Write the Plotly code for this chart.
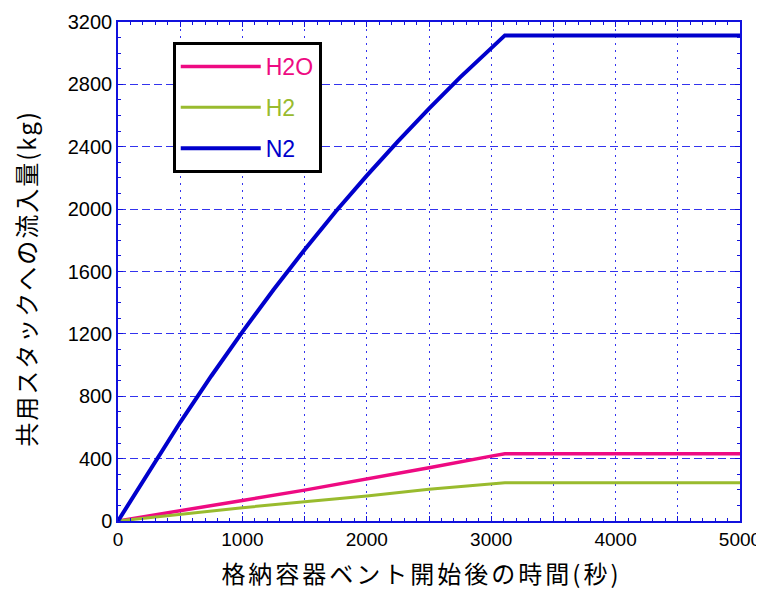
import plotly.graph_objects as go

# Data (time in seconds, cumulative inflow in kg)
time_n2 = [0, 250, 500, 750, 1000, 1250, 1500, 1750, 2000, 2250, 2500, 2750, 3000, 3110, 5000]
n2_kg = [0, 322, 633, 930, 1213, 1483, 1740, 1985, 2215, 2435, 2645, 2845, 3035, 3114, 3114]

time_s = [0, 500, 1000, 1500, 2000, 2500, 3000, 3110, 5000]
h2o_kg = [0, 68, 132, 198, 267, 341, 416, 431, 431]
h2_kg = [0, 43, 85, 124, 160, 203, 239, 245, 245]

series_names = ["H2O", "H2", "N2"]
series_colors = ["#EE0A82", "#99BB2E", "#0000CC"]
series_widths = [3.5, 3, 4]

x_tickvals = [0, 500, 1000, 1500, 2000, 2500, 3000, 3500, 4000, 4500, 5000]
x_ticktext = ["0", "", "1000", "", "2000", "", "3000", "", "4000", "", "5000"]
y_tickvals = [0, 400, 800, 1200, 1600, 2000, 2400, 2800, 3200]
y_ticktext = [str(v) for v in y_tickvals]

x_title = "格納容器ベント開始後の時間(秒)"
y_title = "共用スタックへの流入量(kg)"

fig = go.Figure()
for name, xs, ys, col, w in zip(series_names, [time_s, time_s, time_n2],
                                [h2o_kg, h2_kg, n2_kg], series_colors, series_widths):
    fig.add_trace(go.Scatter(
        x=xs, y=ys, mode="lines", name=f"<span style='color:{col}'>{name}</span>",
        line=dict(color=col, width=w), legendgroup=name,
    ))

grid_col = "#3333EE"
axis_col = "#1111DD"
sans = "Liberation Sans, Arial, sans-serif"
jp = "Noto Sans CJK JP, sans-serif"

# page body has an 8px margin: size the figure so that it fits the 764x590 window
fig.update_layout(
    width=756, height=582,
    margin=dict(l=110, r=24, t=14, b=69),
    paper_bgcolor="white", plot_bgcolor="white",
    showlegend=True,
    legend=dict(
        x=0.088, y=0.96, xanchor="left", yanchor="top",
        bordercolor="black", borderwidth=3, bgcolor="white",
        font=dict(family="Liberation Sans Narrow, Liberation Sans, Arial", size=23),
        tracegroupgap=8, itemwidth=80,
    ),
    xaxis=dict(
        range=[0, 5000], tickvals=x_tickvals, ticktext=x_ticktext,
        showgrid=True, gridcolor=grid_col, griddash="2px,5px", gridwidth=1,
        showline=True, linecolor=axis_col, linewidth=1.5, mirror="ticks",
        ticks="inside", ticklen=5, tickcolor=axis_col,
        minor=dict(dtick=100, ticks="inside", ticklen=3, tickcolor=axis_col, showgrid=False),
        tickfont=dict(family=sans, size=19, color="black"), zeroline=False, automargin=False,
        title=dict(text=f"<span style='letter-spacing:3px'>{x_title}\u2002</span>",
                   font=dict(family=jp, size=24, color="black"), standoff=19),
    ),
    yaxis=dict(
        range=[0, 3200], tickvals=y_tickvals, ticktext=y_ticktext,
        showgrid=True, gridcolor=grid_col, griddash="8px,4px", gridwidth=1,
        showline=True, linecolor=axis_col, linewidth=1.5, mirror="ticks",
        ticks="inside", ticklen=5, tickcolor=axis_col,
        minor=dict(dtick=100, ticks="inside", ticklen=3, tickcolor=axis_col, showgrid=False),
        tickfont=dict(family=sans, size=20, color="black"), zeroline=False, automargin=False,
        title=dict(text=f"<span style='letter-spacing:2px'>{y_title}\u2002</span>",
                   font=dict(family=jp, size=24, color="black"), standoff=30),
    ),
)

fig.write_html("out.html")
